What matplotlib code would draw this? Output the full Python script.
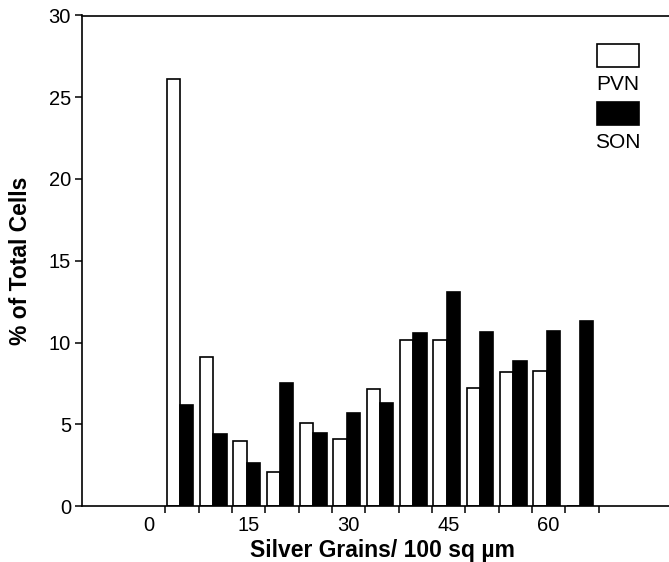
import matplotlib.pyplot as plt
from matplotlib.patches import Rectangle
import numpy as np

plt.rcParams['font.family'] = ['Liberation Sans', 'DejaVu Sans']

# bin centres (silver grains / 100 sq um), bins are 5 wide
bins = [5, 10, 15, 20, 25, 30, 35, 40, 45, 50, 55, 60, 65]
pvn = [26.1, 9.1, 4.0, 2.1, 5.1, 4.1, 7.15, 10.15, 10.15, 7.2, 8.2, 8.25, 0]
son = [6.2, 4.4, 2.6, 7.5, 4.45, 5.7, 6.3, 10.6, 13.1, 10.65, 8.85, 10.7, 11.3]
xlabels = [0, 15, 30, 45, 60]
bin_edges = [2.5 + 5 * k for k in range(14)]

W, H = 669, 562
fig = plt.figure(figsize=(W / 100, H / 100), dpi=100)
ax = fig.add_axes([82 / W, 56 / H, 600 / W, 490.5 / H])

x = np.array(bins)
ax.bar(x - 1.3, pvn, width=2.0, color='white', edgecolor='black', linewidth=1.2)
ax.bar(x + 0.7, son, width=2.0, color='black', edgecolor='black', linewidth=1.2)

ax.set_xlim(-10, 80)
ax.set_ylim(0, 30)

ax.set_xticks(bin_edges)
ax.set_xticklabels([])
ax.set_xticks(xlabels, minor=True)
ax.set_xticklabels([str(v) for v in xlabels], minor=True)
ax.tick_params(axis='x', which='major', direction='out', length=5, width=1.1)
ax.tick_params(axis='x', which='minor', length=0, pad=7, labelsize=14.5)

ax.set_yticks(range(0, 31, 5))
ax.tick_params(axis='y', direction='out', length=5, width=1.1, pad=3, labelsize=14.5)

for s in ['left', 'bottom', 'top']:
    ax.spines[s].set_linewidth(1.2)
ax.spines['right'].set_visible(False)

ax.set_xlabel('Silver Grains/ 100 sq \u00b5m', fontsize=16.5, fontweight='bold', labelpad=3)
ax.set_ylabel('% of Total Cells', fontsize=16.5, fontweight='bold', labelpad=12)

# legend drawn by hand, boxes above labels
def fig_rect(x0, y0, x1, y1, fc):
    fig.patches.append(Rectangle((x0 / W, 1 - y1 / H), (x1 - x0) / W, (y1 - y0) / H,
                                 transform=fig.transFigure, facecolor=fc,
                                 edgecolor='black', linewidth=1.2))

fig_rect(597, 44, 639, 67, 'white')
fig.text(618 / W, 1 - 84 / H, 'PVN', ha='center', va='center', fontsize=15)
fig_rect(597, 102, 639, 125, 'black')
fig.text(618 / W, 1 - 142 / H, 'SON', ha='center', va='center', fontsize=15)

fig.savefig('out.png', dpi=100)
